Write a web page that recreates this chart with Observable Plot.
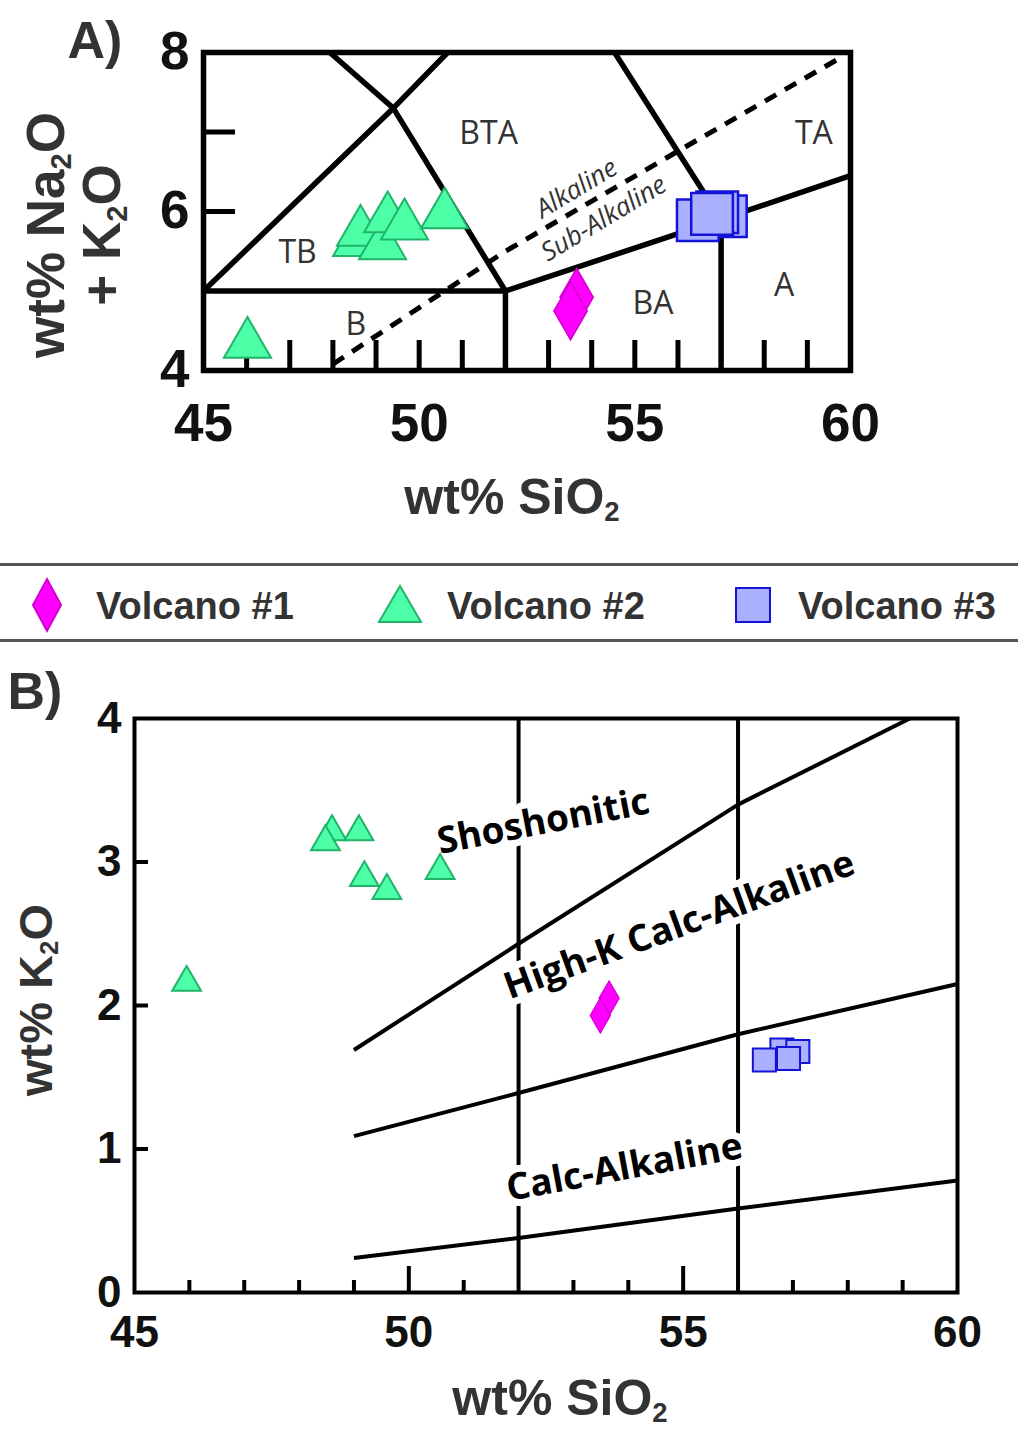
<!DOCTYPE html>
<html>
<head>
<meta charset="utf-8">
<script src="https://cdn.jsdelivr.net/npm/d3@7"></script>
<script src="https://cdn.jsdelivr.net/npm/@observablehq/plot@0.6"></script>
<style>
  html, body { margin: 0; padding: 0; background: #fff; }
  #page { position: relative; width: 1018px; height: 1431px; overflow: hidden; background: #fff;
          font-family: "Liberation Sans", Arial, sans-serif; }
  .abs { position: absolute; white-space: nowrap; line-height: 1; }
  .lbl { font-weight: bold; color: #333; }
  .sub { font-size: 0.55em; position: relative; top: 0.24em; }
  #chartA, #chartB { position: absolute; left: 0; }
  #chartA { top: 0; }
  #chartB { top: 650px; }
</style>
</head>
<body>
<div id="page">
  <div id="chartA"></div>
  <div id="chartB"></div>
</div>
<script>
// ---------------- DATA ----------------
const volcanoNames = ["Volcano #1", "Volcano #2", "Volcano #3"];
const volcanoFill = ["#ff00ff", "#4dffa6", "#aab0ff"];
const volcanoStroke = ["#d000d0", "#20b36a", "#1414d6"];

// Panel A: total alkali vs silica (wt%)
const v1SiO2A = [53.65, 53.51];
const v1AlkA  = [4.92, 4.75];
const v2SiO2A = [48.55, 48.64, 49.15, 49.27, 49.66, 50.59, 46.02];
const v2AlkA  = [5.61, 5.74, 5.57, 5.91, 5.82, 5.96, 4.33];
const v3SiO2A = [57.11, 56.91, 56.46, 56.79];
const v3AlkA  = [5.94, 5.99, 5.89, 5.97];

// Panel B: K2O vs silica (wt%)
const v1SiO2B = [53.65, 53.49];
const v1K2OB  = [2.05, 1.93];
const v2SiO2B = [48.60, 49.09, 48.48, 49.19, 49.60, 50.57, 45.95];
const v2K2OB  = [3.21, 3.21, 3.14, 2.89, 2.80, 2.94, 2.16];
const v3SiO2B = [56.80, 57.09, 56.48, 56.92];
const v3K2OB  = [1.69, 1.68, 1.62, 1.63];

// TAS field boundaries (SiO2, Na2O+K2O)
const tasSegments = [
  [[45, 5], [52, 5]],
  [[45, 5], [49.4, 7.3], [50.66, 8]],
  [[47.93, 8], [49.4, 7.3], [52, 5]],
  [[52, 4], [52, 5], [57, 5.9], [60, 6.45]],
  [[57, 4], [57, 5.9], [54.53, 8]]
];
const alkalineDivide = [[48.0, 4.08], [52, 5.5], [56.1, 6.79], [59.85, 7.96]];
const tasLabelText = ["BTA", "TA", "TB", "B", "BA", "A"];
const tasLabelSiO2 = [51.61, 59.15, 47.18, 48.53, 55.42, 58.46];
const tasLabelAlk  = [6.98, 6.98, 5.48, 4.57, 4.84, 5.07];
const seriesLabelText = ["Alkaline", "Sub-Alkaline"];
const seriesLabelSiO2 = [53.65, 54.28];
const seriesLabelAlk  = [6.29, 5.91];

// K2O series boundaries
const kSegments = [
  [[49, 1.69], [52, 2.43], [56, 3.40], [59.13, 4.0]],
  [[49, 1.09], [52, 1.39], [56, 1.80], [60, 2.15]],
  [[49, 0.24], [52, 0.38], [56, 0.585], [60, 0.78]]
];
const kDividers = [52, 56];
const kLabelText  = ["Shoshonitic", "High-K Calc-Alkaline", "Calc-Alkaline"];
const kLabelSiO2  = [52.45, 54.93, 53.93];
const kLabelK2O   = [3.28, 2.56, 0.87];
const kLabelAngle = [-11, -20, -10.5];

// Axis ticks
const xTickLabels = [45, 50, 55, 60];
const yTickLabelsA = [4, 6, 8];
const yTickLabelsB = [0, 1, 2, 3, 4];
const xMinorTicksA = [46, 47, 48, 49, 50, 51, 53, 54, 55, 56, 58, 59];
const yInnerTicksA = [6, 7];
const xMinorTicksB = [46, 47, 48, 49, 51, 53, 54, 57, 58, 59];
const xMajorTicksB = [50, 55];
const yInnerTicksB = [1, 2, 3];

// ---------------- HELPERS ----------------
const W = 1018;
const toRows = segs => segs.flatMap((seg, id) => seg.map(([x, y]) => ({id, x, y})));
const FONT = "'Liberation Sans', Arial, sans-serif";
const OPEN = "'Open Sans', 'Noto Sans', sans-serif";
const intFmt = d => String(d);

// ---------------- PANEL A ----------------
const xDomA = [45, 60], yDomA = [4, 8];
const MA = {top: 52, right: 168, bottom: 175, left: 203}, HA = 545;
const pxAx = (W - MA.left - MA.right) / (xDomA[1] - xDomA[0]);
const pxAy = (HA - MA.top - MA.bottom) / (yDomA[1] - yDomA[0]);

const chartA = Plot.plot({
  width: W, height: HA,
  marginTop: MA.top, marginRight: MA.right, marginBottom: MA.bottom, marginLeft: MA.left,
  x: {domain: xDomA}, y: {domain: yDomA},
  style: {background: "transparent", fontFamily: FONT, overflow: "visible"},
  marks: [
    Plot.ruleX(xMinorTicksA, {x: d => d, y1: yDomA[0], y2: yDomA[0] + 30 / pxAy, stroke: "#000", strokeWidth: 5}),
    Plot.ruleY(yInnerTicksA, {y: d => d, x1: xDomA[0], x2: xDomA[0] + 32 / pxAx, stroke: "#000", strokeWidth: 5}),
    Plot.line(toRows(tasSegments), {x: "x", y: "y", z: "id", stroke: "#000", strokeWidth: 5.5, strokeLinecap: "butt", strokeLinejoin: "miter"}),
    Plot.line(toRows([alkalineDivide]), {x: "x", y: "y", stroke: "#000", strokeWidth: 5, strokeLinecap: "butt", strokeDasharray: "13,10"}),
    Plot.frame({stroke: "#000", strokeWidth: 5.5}),
    Plot.text(tasLabelText, {x: tasLabelSiO2, y: tasLabelAlk, text: d => d, fontSize: 32, fontFamily: OPEN, fill: "#333"}),
    Plot.text(seriesLabelText, {x: seriesLabelSiO2, y: seriesLabelAlk, text: d => d, rotate: -31, fontSize: 26, fontStyle: "italic", fontFamily: OPEN, fill: "#333"}),
    Plot.dot(v2SiO2A, {x: v2SiO2A, y: v2AlkA, symbol: "triangle", r: 17.5, fill: volcanoFill[1], stroke: volcanoStroke[1], strokeWidth: 2}),
    Plot.dot(v1SiO2A, {x: v1SiO2A, y: v1AlkA, symbol: "diamond", r: 17.5, fill: volcanoFill[0], stroke: volcanoStroke[0], strokeWidth: 1.5}),
    Plot.dot(v3SiO2A, {x: v3SiO2A, y: v3AlkA, symbol: "square", r: 23.5, fill: volcanoFill[2], stroke: volcanoStroke[2], strokeWidth: 2.5}),
    Plot.axisX({ticks: xTickLabels, tickFormat: intFmt, tickSize: 0, tickPadding: 33, fontSize: 53, fontWeight: "bold", fill: "#111", label: null}),
    Plot.axisY({ticks: yTickLabelsA, tickFormat: intFmt, tickSize: 0, tickPadding: 14, fontSize: 53, fontWeight: "bold", fill: "#111", label: null})
  ]
});
document.getElementById("chartA").appendChild(chartA);

// ---------------- PANEL B ----------------
const xDomB = [45, 60], yDomB = [0, 4];
const MB = {top: 68, right: 61, bottom: 139, left: 134}, HB = 781;
const pxBx = (W - MB.left - MB.right) / (xDomB[1] - xDomB[0]);
const pxBy = (HB - MB.top - MB.bottom) / (yDomB[1] - yDomB[0]);

const chartB = Plot.plot({
  width: W, height: HB,
  marginTop: MB.top, marginRight: MB.right, marginBottom: MB.bottom, marginLeft: MB.left,
  x: {domain: xDomB}, y: {domain: yDomB},
  style: {background: "transparent", fontFamily: FONT, overflow: "visible"},
  marks: [
    Plot.ruleX(kDividers, {x: d => d, stroke: "#000", strokeWidth: 4}),
    Plot.ruleX(xMinorTicksB, {x: d => d, y1: yDomB[0], y2: yDomB[0] + 12 / pxBy, stroke: "#000", strokeWidth: 4}),
    Plot.ruleX(xMajorTicksB, {x: d => d, y1: yDomB[0], y2: yDomB[0] + 26 / pxBy, stroke: "#000", strokeWidth: 4}),
    Plot.ruleY(yInnerTicksB, {y: d => d, x1: xDomB[0], x2: xDomB[0] + 14 / pxBx, stroke: "#000", strokeWidth: 4}),
    Plot.text(kLabelText, {x: kLabelSiO2, y: kLabelK2O, text: d => d, rotate: kLabelAngle, fontSize: 37, fontWeight: "bold", fontFamily: OPEN, fill: "#000", stroke: "#fff", strokeWidth: 14, strokeLinejoin: "round", paintOrder: "stroke"}),
    Plot.line(toRows(kSegments), {x: "x", y: "y", z: "id", stroke: "#000", strokeWidth: 4, strokeLinecap: "butt"}),
    Plot.frame({stroke: "#000", strokeWidth: 4}),
    Plot.dot(v2SiO2B, {x: v2SiO2B, y: v2K2OB, symbol: "triangle", r: 10.7, fill: volcanoFill[1], stroke: volcanoStroke[1], strokeWidth: 2}),
    Plot.dot(v1SiO2B, {x: v1SiO2B, y: v1K2OB, symbol: "diamond", r: 10.6, fill: volcanoFill[0], stroke: volcanoStroke[0], strokeWidth: 1.2}),
    Plot.dot(v3SiO2B, {x: v3SiO2B, y: v3K2OB, symbol: "square", r: 13, fill: volcanoFill[2], stroke: volcanoStroke[2], strokeWidth: 2}),
    Plot.axisX({ticks: xTickLabels, tickFormat: intFmt, tickSize: 0, tickPadding: 23, fontSize: 44, fontWeight: "bold", fill: "#111", label: null}),
    Plot.axisY({ticks: yTickLabelsB, tickFormat: intFmt, tickSize: 0, tickPadding: 13, fontSize: 44, fontWeight: "bold", fill: "#111", label: null})
  ]
});
document.getElementById("chartB").appendChild(chartB);

// ---------------- LEGEND ----------------
const page = document.getElementById("page");
const legendSymbolX = [47, 400, 753];
const legendTextX = [96, 447, 798];
const ns = "http://www.w3.org/2000/svg";
const leg = document.createElementNS(ns, "svg");
leg.setAttribute("width", W); leg.setAttribute("height", 100);
leg.style.position = "absolute"; leg.style.left = "0px"; leg.style.top = "555px";
const cy = 50;
const shapes = [
  cx => `M${cx},${cy - 26}L${cx + 14},${cy}L${cx},${cy + 26}L${cx - 14},${cy}Z`,
  cx => `M${cx},${cy - 19}L${cx + 21},${cy + 17}L${cx - 21},${cy + 17}Z`,
  cx => `M${cx - 17},${cy - 17}H${cx + 17}V${cy + 17}H${cx - 17}Z`
];
leg.innerHTML =
  `<rect x="0" y="8" width="${W}" height="3" fill="#555"/>` +
  `<rect x="0" y="84" width="${W}" height="3" fill="#555"/>` +
  volcanoNames.map((name, i) =>
    `<path d="${shapes[i](legendSymbolX[i])}" fill="${volcanoFill[i]}" stroke="${volcanoStroke[i]}" stroke-width="2"/>` +
    `<text x="${legendTextX[i]}" y="${cy + 14}" font-family="${FONT.replace(/'/g, "")}" font-weight="bold" font-size="38" fill="#333">${name}</text>`
  ).join("");
page.appendChild(leg);

// ---------------- TITLES & LABELS (HTML) ----------------
function place(html, cx, cy, size, rotate = 0, cls = "abs lbl") {
  const d = document.createElement("div");
  d.className = cls;
  d.innerHTML = html;
  d.style.left = cx + "px"; d.style.top = cy + "px";
  d.style.fontSize = size + "px";
  d.style.transform = `translate(-50%, -50%) rotate(${rotate}deg)`;
  page.appendChild(d);
}
place("A)", 95, 40, 52);
place("B)", 35, 691, 52);
place('wt% SiO<span class="sub">2</span>', 512, 497, 50);
place('wt% SiO<span class="sub">2</span>', 560, 1398, 50);
place('wt% Na<span class="sub">2</span>O', 45, 235, 53, -90);
place('+ K<span class="sub">2</span>O', 101, 235, 53, -90);
place('wt% K<span class="sub">2</span>O', 35, 1000, 47, -90);
</script>
</body>
</html>
